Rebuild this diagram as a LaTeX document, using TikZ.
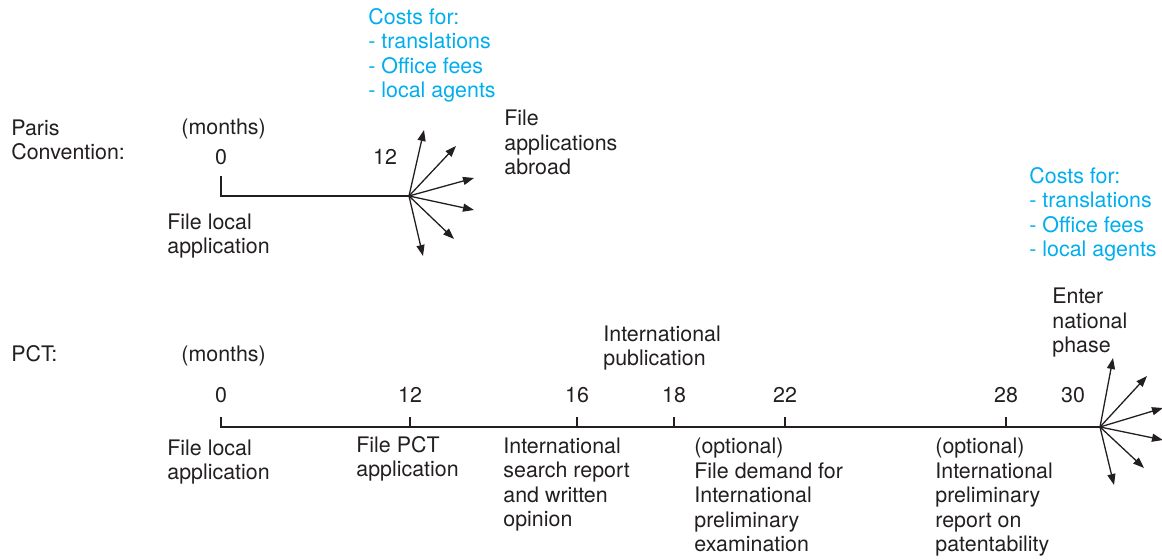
\documentclass[tikz,border=0pt]{standalone}
\usepackage{fontspec}
\setmainfont{TeX Gyre Heros}
\usetikzlibrary{arrows.meta}
\definecolor{ink}{HTML}{231F20}
\definecolor{costblue}{HTML}{00AEEF}

\begin{document}
\begin{tikzpicture}[
        x=0.5pt, y=-0.5pt,
        every node/.style={text=ink, font=\fontsize{10.7}{12.3}\selectfont},
        lbl/.style={anchor=base west, align=left, inner sep=0pt},
        num/.style={anchor=base, inner sep=0pt},
        cost/.style={lbl, text=costblue},
        axis/.style={draw=ink, line width=0.65pt},
        fan/.style={draw=ink, line width=0.65pt, -{Triangle[length=5.5pt, width=4pt]}}
    ]
        \useasboundingbox (0,0) rectangle (1162,560);

        % Paris Convention (labels sit on the baseline of their last line)
        \node[lbl] (paris) at (11,160) {Paris\\Convention:};
        \node[lbl] (pmonths) at (181,135) {(months)};
        \node[num] (pn0) at (221,165) {0};
        \node[num] (pn12) at (385,165) {12};
        \node[cost] (pcost) at (368,98) {Costs for:\\- translations\\- Office fees\\- local agents};
        \node[lbl] (pabroad) at (504,175) {File\\applications\\abroad};
        \node[lbl] (plocal) at (167,254) {File local\\application};

        \coordinate (pt0) at (221,176);
        \coordinate (p0) at (221,196);
        \coordinate (p12) at (409,196);
        \draw[axis] (pt0) -- (p0) -- (p12);
        \foreach \dx/\dy [count=\i] in {15/-66, 47/-50, 65/-18, 65/14, 45/43, 14/60}
            \draw[fan] (p12) -- ++(\dx,\dy) coordinate (pa\i);

        % PCT
        \node[lbl] (pct) at (11,362) {PCT:};
        \node[lbl] (cmonths) at (181,362) {(months)};
        \node[lbl] (cpub) at (603,366) {International\\publication};
        \node[lbl] (cnat) at (1052,353) {Enter\\national\\phase};
        \node[cost] (ccost) at (1029,257) {Costs for:\\- translations\\- Office fees\\- local agents};

        \coordinate (c0) at (221,427);
        \coordinate (c30) at (1100,427);
        \draw[axis] (221,417) coordinate (ct0) -- (c0) -- (c30);
        \foreach \m/\xx in {12/410, 16/577, 18/674, 22/785, 28/1006} {
            \coordinate (c\m) at (\xx,427);
            \draw[axis] (c\m) -- ++(0,-10) coordinate (ct\m);
            \node[num] (cn\m) at (\xx,403) {\m};
        }
        \node[num] (cn0) at (221,403) {0};
        \node[num] (cn30) at (1073,403) {30};
        \foreach \dx/\dy [count=\i] in {13/-69, 47/-51, 63/-19, 63/13, 44/41, 14/58}
            \draw[fan] (c30) -- ++(\dx,\dy) coordinate (ca\i);

        \node[lbl] (clocal) at (167,480) {File local\\application};
        \node[lbl] (cfile) at (356,477) {File PCT\\application};
        \node[lbl] (csearch) at (503,527) {International\\search report\\and written\\opinion};
        \node[lbl] (cdemand) at (694,552) {(optional)\\File demand for\\International\\preliminary\\examination};
        \node[lbl] (creport) at (935,552) {(optional)\\International\\preliminary\\report on\\patentability};
    \end{tikzpicture}
\end{document}
